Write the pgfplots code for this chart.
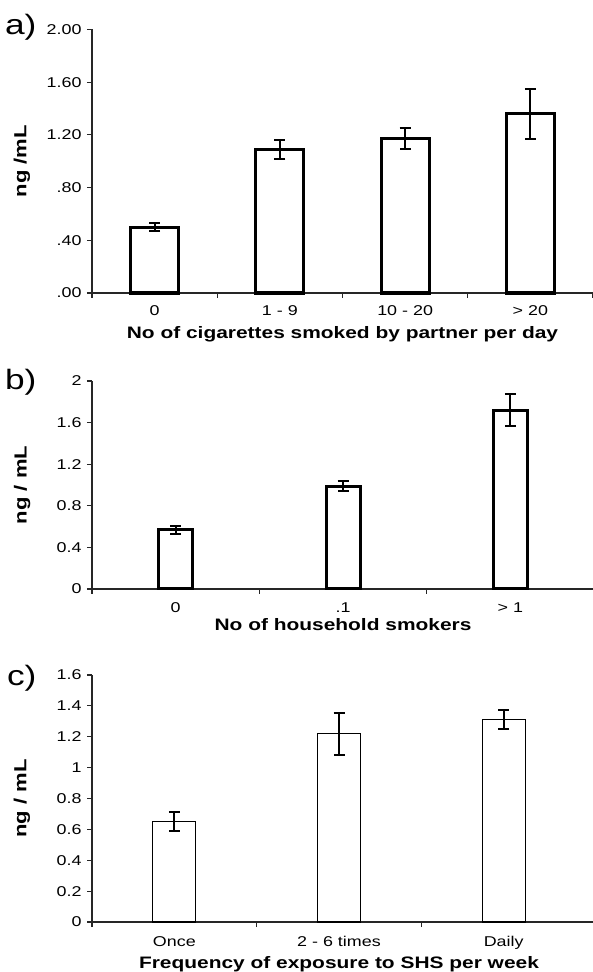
\documentclass[border=0pt]{standalone}
\usepackage{fontspec}
\setmainfont{Liberation Sans}[FakeStretch=1.26]
\usepackage{pgfplots}
\pgfplotsset{compat=1.18}
\newcommand\tickfont{\fontsize{14.2}{16}\selectfont}
\newcommand\labfont{\fontsize{16.6}{19}\selectfont\bfseries}
\newcommand\ylabfont{\fontsize{17.5}{20}\selectfont\bfseries}
\newcommand\panfont{\fontsize{28}{30}\selectfont}
\pgfplotsset{
  panel/.style={
    scale only axis,
    anchor=south west,
    axis x line*=bottom, axis y line*=left,
    axis line style={line width=1.2pt, black!85},
    tick style={line width=1.1pt, black!85},
    tick align=outside,
    major tick length=5pt,
    ymin=0, xmin=-0.5,
    ybar,
    enlarge x limits=false,
    clip=false,
    /pgf/number format/assume math mode=true,
    tick label style={font=\tickfont},
    yticklabel style={xshift=-2pt},
    xticklabels={},
    xlabel style={font=\labfont, at={(axis description cs:0.5,0)}, anchor=base},
    ylabel style={font=\ylabfont},
  },
  barplot/.style={fill=white, draw=black, line width=#1,
    error bars/.cd, y dir=both, y explicit,
    error bar style={line width=2pt, black},
    error mark options={rotate=90, mark size=5.5pt, line width=2pt, black}},
}
\pgfplotstableread{
x y e
0 0.50 0.028
1 1.09 0.07
2 1.17 0.08
3 1.36 0.19
}\dataA
\pgfplotstableread{
x y e
0 0.57 0.04
1 0.99 0.045
2 1.72 0.155
}\dataB
\pgfplotstableread{
x y e
0 0.65 0.062
1 1.22 0.137
2 1.31 0.063
}\dataC
\begin{document}
\begin{tikzpicture}
\path[use as bounding box] (0,0) rectangle (592pt,972pt);
% panel a
\begin{axis}[panel, at={(92pt,679pt)}, width=501pt, height=263.5pt,
  xmax=3.5, ymax=2, bar width=48pt,
  ytick={0,0.4,0.8,1.2,1.6,2.0},
  yticklabels={.00,.40,.80,1.20,1.60,2.00},
  xtick={-0.5,0.5,1.5,2.5,3.5},
  extra x ticks={0,1,2,3},
  extra x tick labels={0,1 - 9,10 - 20,> 20},
  extra x tick style={major tick length=0pt, tick style={draw=none}, xticklabel style={yshift=-9pt}},
  xlabel={No of cigarettes smoked by partner per day},
  xlabel style={yshift=-46pt},
  ylabel={ng /mL},
  ylabel style={at={(axis description cs:-0.1397,0.5)}, anchor=center},
]
\addplot[barplot=3.2pt] table[x=x, y=y, y error=e] {\dataA};
\end{axis}
% panel b
\begin{axis}[panel, at={(92pt,383pt)}, width=502pt, height=208pt,
  xmax=2.5, ymax=2, bar width=34pt,
  ytick={0,0.4,0.8,1.2,1.6,2.0},
  yticklabels={0,0.4,0.8,1.2,1.6,2},
  xtick={-0.5,0.5,1.5,2.5},
  extra x ticks={0,1,2},
  extra x tick labels={0,.1,> 1},
  extra x tick style={major tick length=0pt, tick style={draw=none}, xticklabel style={yshift=-10pt}},
  xlabel={No of household smokers},
  xlabel style={yshift=-42pt},
  ylabel={ng / mL},
  ylabel style={at={(axis description cs:-0.1394,0.5)}, anchor=center},
]
\addplot[barplot=3pt] table[x=x, y=y, y error=e] {\dataB};
\end{axis}
% panel c
\begin{axis}[panel, at={(92pt,50pt)}, width=494pt, height=247pt,
  xmax=2.5, ymax=1.6, bar width=43pt,
  x axis line style={shorten >=-8pt},
  ytick={0,0.2,0.4,0.6,0.8,1.0,1.2,1.4,1.6},
  yticklabels={0,0.2,0.4,0.6,0.8,1,1.2,1.4,1.6},
  xtick={-0.5,0.5,1.5},
  extra x ticks={0,1,2},
  extra x tick labels={Once,2 - 6 times,Daily},
  extra x tick style={major tick length=0pt, tick style={draw=none}, xticklabel style={yshift=-11pt}},
  xlabel={Frequency of exposure to SHS per week},
  xlabel style={yshift=-46.7pt},
  ylabel={ng / mL},
  ylabel style={at={(axis description cs:-0.1417,0.5)}, anchor=center},
]
\addplot[barplot=1.3pt] table[x=x, y=y, y error=e] {\dataC};
\end{axis}
\node[font=\panfont, anchor=east] at (40pt,945pt) {a)};
\node[font=\panfont, anchor=east] at (40pt,590pt) {b)};
\node[font=\panfont, anchor=east] at (40pt,294pt) {c)};
\end{tikzpicture}
\end{document}
